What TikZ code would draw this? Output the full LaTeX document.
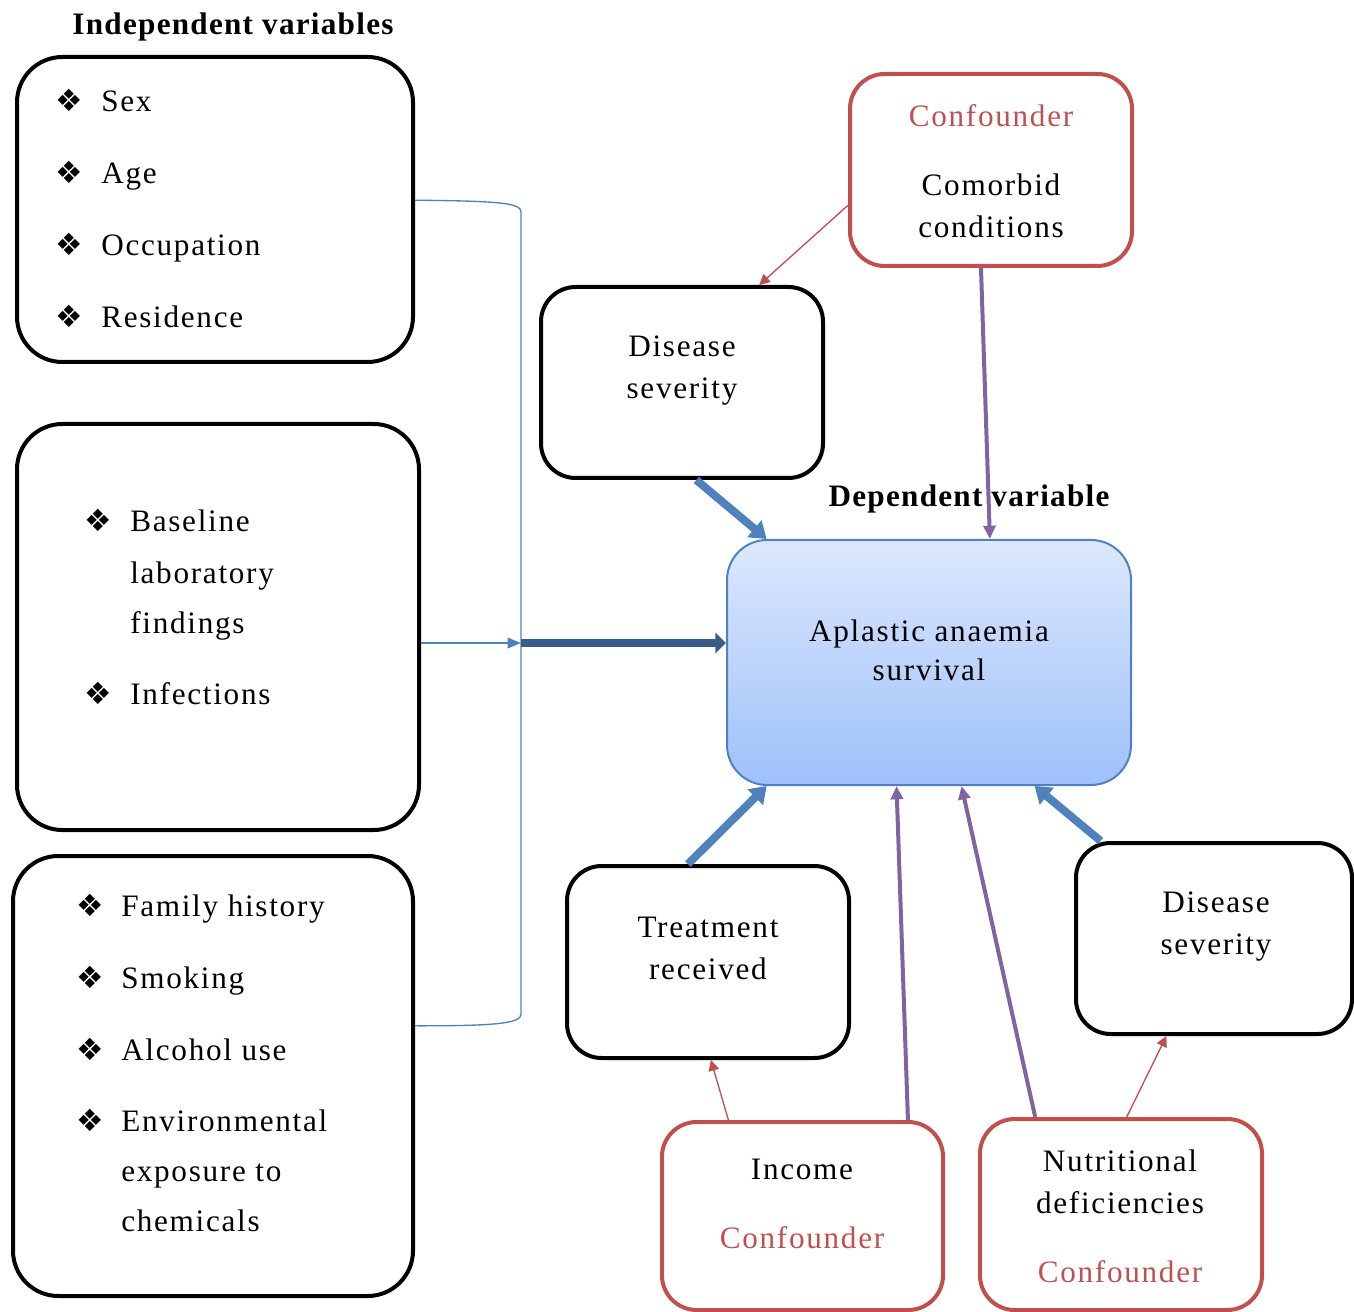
\documentclass[tikz,border=0pt]{standalone}
\usepackage{fontspec}
\setmainfont[LetterSpace=5.5,BoldFeatures={LetterSpace=4}]{Liberation Serif}
\newfontfamily\dingfont{DejaVu Sans}
\usepackage{tikz}
\usetikzlibrary{arrows.meta,calc,positioning}
\definecolor{linkblue}{HTML}{4F81BD}
\definecolor{darkblue}{HTML}{385D8A}
\definecolor{confpurple}{HTML}{8064A2}
\definecolor{confred}{HTML}{C0504D}
\definecolor{survtop}{HTML}{DDE8FD}
\definecolor{survbot}{HTML}{9EC0FA}
\newcommand{\itm}{{\dingfont\fontsize{23}{23}\selectfont ❖}}
\newcommand{\txtfont}{\fontsize{23.4}{31.5}\selectfont}
\tikzset{
  varbox/.style={draw=black,line width=3pt,rounded corners=34pt,inner sep=0pt},
  factbox/.style={draw=black,line width=3pt,rounded corners=26pt,inner sep=0pt,
    minimum width=211.5pt,minimum height=143.25pt},
  confbox/.style={draw=confred,line width=3pt,rounded corners=26pt,inner sep=0pt,
    minimum width=211.5pt,minimum height=143.25pt},
  survbox/.style={draw=linkblue,line width=1.5pt,rounded corners=30pt,
    top color=survtop,bottom color=survbot,inner sep=0pt},
  boxtext/.style={align=center,font=\txtfont,inner sep=0pt},
  listtext/.style={anchor=base west,inner sep=0pt,font=\fontsize{23.4}{37.5}\selectfont},
  effect/.style={linkblue,line width=6pt,-{Triangle[length=12pt,width=16pt]}},
  confarrow/.style={confpurple,line width=3pt,-{Triangle[length=10pt,width=9pt]}},
  thinred/.style={confred,line width=1pt,-{Triangle[length=8pt,width=8pt]}}
}
\begin{document}
\begin{tikzpicture}[x=0.75pt,y=-0.75pt]
\useasboundingbox (0,0) rectangle (1354,1312);

% independent variables
\node[font=\txtfont\bfseries,inner sep=0pt] (indtitle) at (233,27) {Independent variables};
\node[varbox,minimum width=297pt,minimum height=228.75pt] (ga) at (215,209.5) {};
\node[varbox,minimum width=301.5pt,minimum height=304.5pt] (gb) at (218,627) {};
\node[varbox,minimum width=300pt,minimum height=330pt] (gc) at (213,1076) {};

\node[listtext] (lista) at (55,112) {\begin{tabular}[t]{@{}p{34.5pt}@{}l@{}}
\itm & Sex\\[16.5pt]
\itm & Age\\[16.5pt]
\itm & Occupation\\[16.5pt]
\itm & Residence
\end{tabular}};
\node[listtext] (listb) at (84,532) {\begin{tabular}[t]{@{}p{34.5pt}@{}l@{}}
\itm & Baseline\\[1.5pt]
 & laboratory\\
 & findings\\[15.75pt]
\itm & Infections
\end{tabular}};
\node[listtext] (listc) at (76,916) {\begin{tabular}[t]{@{}p{33.75pt}@{}l@{}}
\itm & Family history\\[16.5pt]
\itm & Smoking\\[16.5pt]
\itm & Alcohol use\\[15.75pt]
\itm & Environmental\\
 & exposure to\\
 & chemicals
\end{tabular}};

% bracket
\coordinate (brk) at (521,643);
\coordinate (p1) at ($(ga.north east)!0.47!(ga.south east)$);
\coordinate (p3) at ($(gc.north east)!0.387!(gc.south east)$);
\draw[linkblue,line width=1pt] (p1) .. controls (500,201) and (521,203) .. (521,212)
  -- (521,1014) .. controls (521,1023) and (500,1026) .. (p3);
\draw[linkblue,line width=1pt,-{Triangle[length=10pt,width=8pt]}]
  (gb.east |- brk) -- (brk);

% outcome
\node[survbox,minimum width=303pt,minimum height=183.75pt] (surv) at (929,662.5) {};
\node[boxtext,font=\fontsize{23.4}{29.25}\selectfont] (survtxt) at (929,650) {Aplastic anaemia\\survival};
\node[font=\txtfont\bfseries,inner sep=0pt] (deptitle) at (969,499) {Dependent variable};
\draw[darkblue,line width=6.5pt,-{Triangle[length=8pt,width=15.5pt]}]
  (brk) -- (surv.west |- brk);

% factors and confounders
\node[factbox] (dstop) at (682,382.5) {};
\node[boxtext] (dstoptxt) at (682,371) {Disease\\severity};
\node[confbox,minimum height=144pt] (cmb) at (991,170) {};
\node[boxtext] (cmbtxt) at (991,171) {\textcolor{confred}{Confounder}\\[20.25pt]Comorbid\\conditions};
\node[factbox,minimum height=144pt] (treat) at (708,962) {};
\node[boxtext] (treattxt) at (708,948) {Treatment\\received};
\node[factbox,minimum width=207pt] (dsright) at (1214,938.5) {};
\node[boxtext] (dsrighttxt) at (1216,927) {Disease\\severity};
\node[confbox,minimum width=210.75pt,minimum height=141pt] (inc) at (802.5,1216) {};
\node[boxtext] (inctxt) at (802,1204) {Income\\[20.25pt]\textcolor{confred}{Confounder}};
\node[confbox] (nut) at (1121,1214.5) {};
\node[boxtext] (nuttxt) at (1120,1216) {Nutritional\\deficiencies\\[20.25pt]\textcolor{confred}{Confounder}};

% connectors
\draw[thinred] ($(cmb.north west)!0.68!(cmb.south west)$) -- ($(dstop.north west)!0.77!(dstop.north east)$);
\draw[confarrow] ($(cmb.south west)!0.465!(cmb.south east)$) -- ($(surv.north west)!0.65!(surv.north east)$);
\draw[effect] ($(dstop.south west)!0.55!(dstop.south east)$) -- ($(surv.north west)!0.1!(surv.north east)$);
\draw[effect] ($(treat.north west)!0.43!(treat.north east)$) -- ($(surv.south west)!0.1!(surv.south east)$);
\draw[confarrow] ($(inc.north west)!0.87!(inc.north east)$) -- ($(surv.south west)!0.42!(surv.south east)$);
\draw[confarrow] ($(nut.north west)!0.2!(nut.north east)$) -- ($(surv.south west)!0.58!(surv.south east)$);
\draw[effect] ($(dsright.north west)!0.095!(dsright.north east)$) -- ($(surv.south west)!0.76!(surv.south east)$);
\draw[thinred] ($(inc.north west)!0.24!(inc.north east)$) -- ($(treat.south west)!0.51!(treat.south east)$);
\draw[thinred] ($(nut.north west)!0.52!(nut.north east)$) -- ($(dsright.south west)!0.33!(dsright.south east)$);
\end{tikzpicture}
\end{document}
